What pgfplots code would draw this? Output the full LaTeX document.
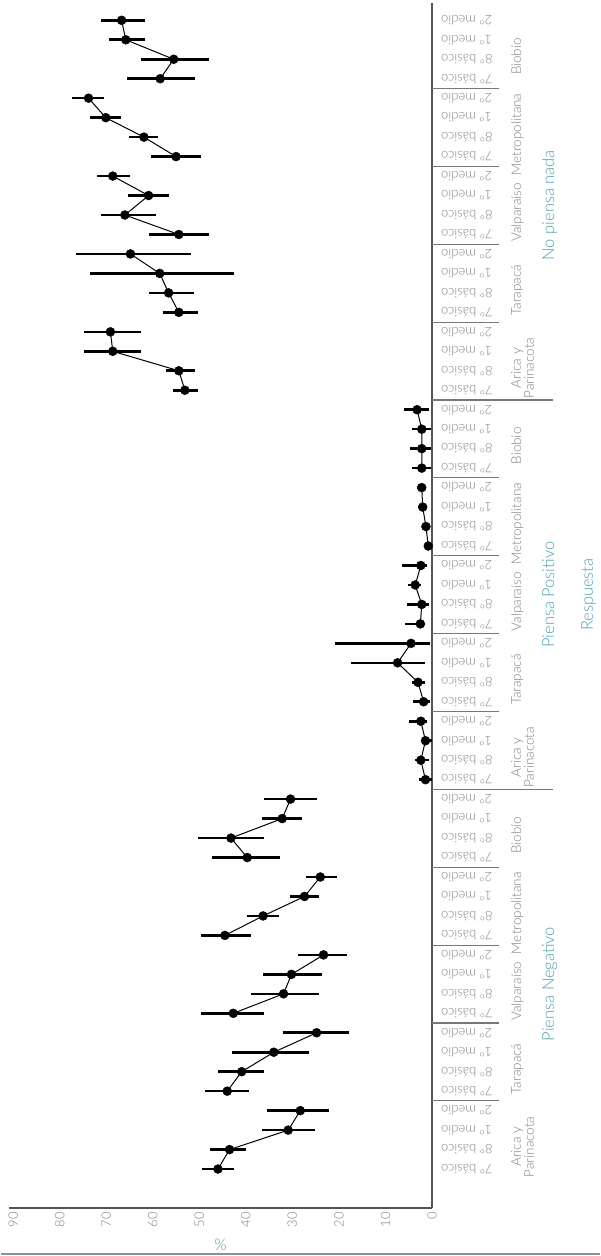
\documentclass[border=0pt]{standalone}
\usepackage{fontspec}
\setmainfont{Lato}[UprightFont=*-Light]
\usepackage{pgfplots}
\usepackage{pgfplotstable}
\pgfplotsset{compat=1.18}
\definecolor{teal1}{HTML}{4A9FB5}
\definecolor{lab}{HTML}{808080}
\definecolor{axl}{HTML}{555555}
\definecolor{sep}{HTML}{777777}
\definecolor{brd}{HTML}{7D95A5}

\pgfplotstableread{
i v lo hi
0 46.0 42.6 49.4
1 43.5 39.9 47.6
2 30.9 25.2 36.5
3 28.3 22.1 35.5
4 44.0 39.3 48.8
5 40.9 36.1 45.9
6 34.0 26.5 42.9
7 24.8 17.8 32.0
8 42.7 36.0 49.6
9 31.9 24.2 38.9
10 30.2 23.7 36.3
11 23.3 18.3 28.7
12 44.5 38.9 49.6
13 36.3 32.8 39.7
14 27.4 24.2 30.6
15 24.0 20.5 27.0
16 39.7 32.7 47.3
17 43.2 36.0 50.2
18 32.2 27.9 36.6
19 30.4 24.8 36.0
20 1.4 0.0 2.7
21 2.4 0.7 3.6
22 1.4 0.0 2.2
23 2.4 1.1 5.0
24 1.8 0.4 4.0
25 3.0 1.6 4.2
26 7.4 1.5 17.5
27 4.5 0.4 20.9
28 2.5 1.4 5.8
29 2.2 0.7 5.4
30 3.6 2.3 5.2
31 2.4 1.1 6.5
32 0.8 0.2 1.5
33 1.3 0.5 2.2
34 2.0 1.1 3.0
35 2.2 1.2 3.3
36 2.2 0.2 4.3
37 2.2 0.2 4.7
38 2.2 0.3 4.3
39 3.2 0.7 6.0
40 53.1 50.3 55.7
41 54.4 50.9 57.2
42 68.6 62.6 74.7
43 69.1 62.6 74.7
44 54.4 50.3 57.8
45 56.6 51.2 60.9
46 58.5 42.5 73.4
47 64.8 51.8 76.4
48 54.4 47.9 60.9
49 66.0 59.4 71.2
50 60.9 56.6 65.4
51 68.6 64.8 71.9
52 55.0 49.6 60.4
53 61.9 58.9 65.2
54 70.1 66.9 73.4
55 73.8 70.4 77.3
56 58.4 50.9 65.5
57 55.5 47.9 62.6
58 65.8 61.7 69.4
59 66.7 61.7 71.1
}\datatab

\newcommand{\lfont}{\fontsize{13}{14}\selectfont}
\newcommand{\rfont}{\fontsize{13.5}{11.5}\selectfont}
\newcommand{\ffont}{\fontsize{16.5}{17}\selectfont}
\tikzset{reglab/.style={rotate=90, anchor=north, inner sep=0pt, align=center, text=lab, font=\rfont},
  faclab/.style={rotate=90, anchor=north, inner sep=0pt, text=teal1, font=\ffont}}

\begin{document}
\begin{tikzpicture}
\begin{axis}[
  scale only axis, width=423pt, height=1205pt,
  x dir=reverse, xmin=0, xmax=90.9, ymin=-2, ymax=59.89,
  axis line style={draw=none},
  major tick length=0pt,
  clip=false,
  xtick={0,10,...,90},
  /pgf/number format/assume math mode=true,
  xticklabel style={rotate=90, anchor=east, font=\fontsize{13}{13}\selectfont, text=lab, inner sep=0pt},
  xticklabel shift=4pt,
  ytick={0,...,59},
  yticklabels={7º básico,8º básico,1º medio,2º medio,7º básico,8º básico,1º medio,2º medio,7º básico,8º básico,1º medio,2º medio,7º básico,8º básico,1º medio,2º medio,7º básico,8º básico,1º medio,2º medio,7º básico,8º básico,1º medio,2º medio,7º básico,8º básico,1º medio,2º medio,7º básico,8º básico,1º medio,2º medio,7º básico,8º básico,1º medio,2º medio,7º básico,8º básico,1º medio,2º medio,7º básico,8º básico,1º medio,2º medio,7º básico,8º básico,1º medio,2º medio,7º básico,8º básico,1º medio,2º medio,7º básico,8º básico,1º medio,2º medio,7º básico,8º básico,1º medio,2º medio},
  yticklabel pos=right,
  yticklabel style={rotate=180, anchor=east, font=\lfont, text=lab, inner sep=0pt},
  yticklabel shift=9pt,
  xlabel={\%},
  xlabel style={at={(axis description cs:0.5,0)}, anchor=center, yshift=-37pt, text=teal1, font=\fontsize{16}{16}\selectfont},
]
% frame lines
\draw[axl, line width=1.1pt] (axis cs:0,-2) -- (axis cs:0,59.89);
\draw[axl, line width=1.1pt] (axis cs:90.9,-2) -- (axis cs:0,-2);
% region separators
\foreach \s in {3.5,7.5,11.5,15.5,23.5,27.5,31.5,35.5,43.5,47.5,51.5,55.5}{
  \edef\tmp{\noexpand\draw[sep, line width=1.1pt] (axis cs:0,\s) -- ([xshift=67pt]axis cs:0,\s);}\tmp
}
\draw[sep, line width=1.1pt] (axis cs:0,19.5) -- ([xshift=121pt]axis cs:0,19.5);
\draw[sep, line width=1.1pt] (axis cs:0,39.5) -- ([xshift=121pt]axis cs:0,39.5);
% region labels
\node[reglab] at ([xshift=79pt,yshift=-7pt]axis cs:0,1.5) {Arica y\\Parinacota};
\node[reglab] at ([xshift=79pt,yshift=-7pt]axis cs:0,5.5) {Tarapacá};
\node[reglab] at ([xshift=79pt,yshift=-7pt]axis cs:0,9.5) {Valparaíso};
\node[reglab] at ([xshift=79pt,yshift=-7pt]axis cs:0,13.5) {Metropolitana};
\node[reglab] at ([xshift=79pt,yshift=-7pt]axis cs:0,17.5) {Biobío};
\node[reglab] at ([xshift=79pt,yshift=-7pt]axis cs:0,21.5) {Arica y\\Parinacota};
\node[reglab] at ([xshift=79pt,yshift=-7pt]axis cs:0,25.5) {Tarapacá};
\node[reglab] at ([xshift=79pt,yshift=-7pt]axis cs:0,29.5) {Valparaíso};
\node[reglab] at ([xshift=79pt,yshift=-7pt]axis cs:0,33.5) {Metropolitana};
\node[reglab] at ([xshift=79pt,yshift=-7pt]axis cs:0,37.5) {Biobío};
\node[reglab] at ([xshift=79pt,yshift=-7pt]axis cs:0,41.5) {Arica y\\Parinacota};
\node[reglab] at ([xshift=79pt,yshift=-7pt]axis cs:0,45.5) {Tarapacá};
\node[reglab] at ([xshift=79pt,yshift=-7pt]axis cs:0,49.5) {Valparaíso};
\node[reglab] at ([xshift=79pt,yshift=-7pt]axis cs:0,53.5) {Metropolitana};
\node[reglab] at ([xshift=79pt,yshift=-7pt]axis cs:0,57.5) {Biobío};
% facet labels
\node[faclab] at ([xshift=110pt]axis cs:0,9.5) {Piensa Negativo};
\node[faclab] at ([xshift=110pt]axis cs:0,29.5) {Piensa Positivo};
\node[faclab] at ([xshift=110pt]axis cs:0,49.5) {No piensa nada};
\node[faclab] at ([xshift=149pt]axis cs:0,29.5) {Respuesta};
% data lines per group
\addplot[black, line width=1pt, restrict y to domain=-0.5:3.5] table[x=v,y=i]{\datatab};
\addplot[black, line width=1pt, restrict y to domain=3.5:7.5] table[x=v,y=i]{\datatab};
\addplot[black, line width=1pt, restrict y to domain=7.5:11.5] table[x=v,y=i]{\datatab};
\addplot[black, line width=1pt, restrict y to domain=11.5:15.5] table[x=v,y=i]{\datatab};
\addplot[black, line width=1pt, restrict y to domain=15.5:19.5] table[x=v,y=i]{\datatab};
\addplot[black, line width=1pt, restrict y to domain=19.5:23.5] table[x=v,y=i]{\datatab};
\addplot[black, line width=1pt, restrict y to domain=23.5:27.5] table[x=v,y=i]{\datatab};
\addplot[black, line width=1pt, restrict y to domain=27.5:31.5] table[x=v,y=i]{\datatab};
\addplot[black, line width=1pt, restrict y to domain=31.5:35.5] table[x=v,y=i]{\datatab};
\addplot[black, line width=1pt, restrict y to domain=35.5:39.5] table[x=v,y=i]{\datatab};
\addplot[black, line width=1pt, restrict y to domain=39.5:43.5] table[x=v,y=i]{\datatab};
\addplot[black, line width=1pt, restrict y to domain=43.5:47.5] table[x=v,y=i]{\datatab};
\addplot[black, line width=1pt, restrict y to domain=47.5:51.5] table[x=v,y=i]{\datatab};
\addplot[black, line width=1pt, restrict y to domain=51.5:55.5] table[x=v,y=i]{\datatab};
\addplot[black, line width=1pt, restrict y to domain=55.5:59.5] table[x=v,y=i]{\datatab};
% points with intervals
\addplot[only marks, mark=*, mark size=4.5pt, black,
  error bars/.cd, x dir=both, x explicit, error mark=none,
  error bar style={line width=2.6pt, black}]
  table[x=v, y=i, x error plus expr=\thisrow{hi}-\thisrow{v}, x error minus expr=\thisrow{v}-\thisrow{lo}]{\datatab};
% page frame
\path ([xshift=-8pt,yshift=-48pt]axis cs:90.9,-2) rectangle ([xshift=168pt,yshift=3pt]axis cs:0,59.89);
\draw[brd, line width=2pt] ([xshift=-8pt,yshift=-46pt]axis cs:90.9,-2) -- ([xshift=168pt,yshift=-46pt]axis cs:0,-2);
\end{axis}
\end{tikzpicture}
\end{document}
